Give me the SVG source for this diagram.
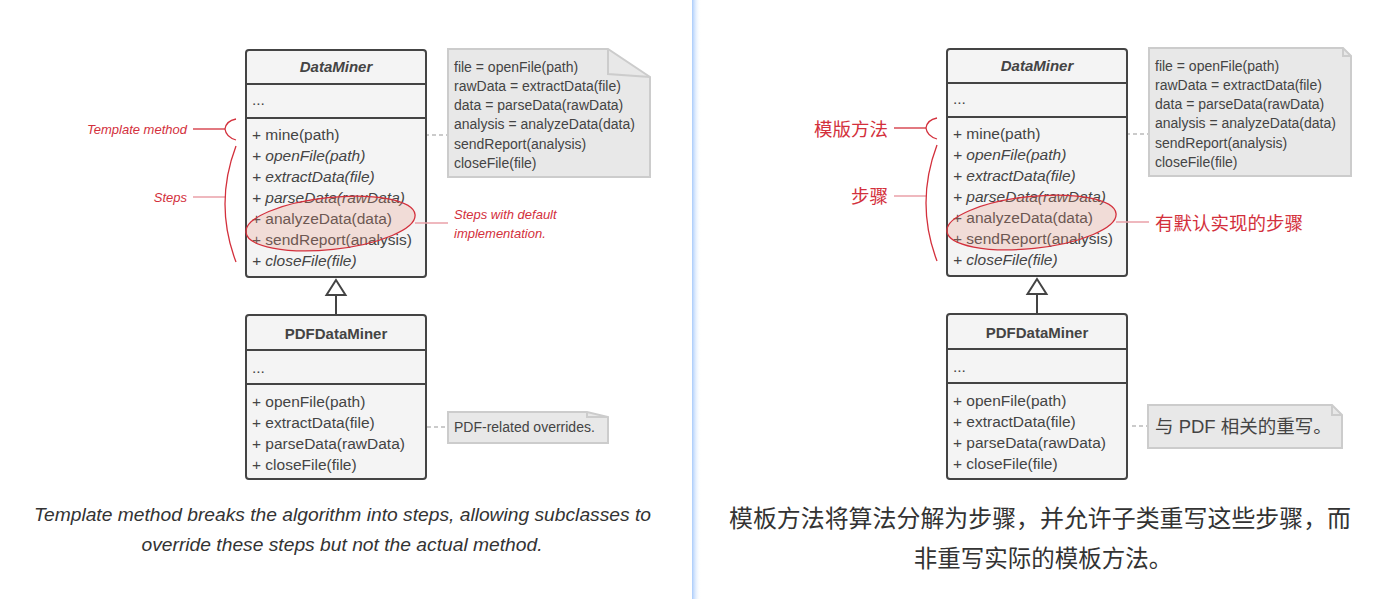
<svg xmlns="http://www.w3.org/2000/svg" width="1394" height="599" viewBox="0 0 1394 599">
<defs>
<linearGradient id="div" x1="0" y1="0" x2="1" y2="0">
<stop offset="0" stop-color="#a9cbfb"/>
<stop offset="1" stop-color="#ffffff" stop-opacity="0"/>
</linearGradient>
<style>
.box{fill:#f4f4f4;stroke:#444;stroke-width:2}
.sep{stroke:#444;stroke-width:2}
.t{font-family:"Liberation Sans",Arial,sans-serif;font-size:15.5px;fill:#444}
.ti{font-family:"Liberation Sans",Arial,sans-serif;font-size:15.5px;fill:#444;font-style:italic}
.title{font-family:"Liberation Sans",Arial,sans-serif;font-size:15px;font-weight:bold;fill:#444;text-anchor:middle}
.note{fill:#e8e8e8;stroke:#cccccc;stroke-width:2}
.fold{fill:none;stroke:#cccccc;stroke-width:2}
.nt{font-family:"Liberation Sans",Arial,sans-serif;font-size:14px;fill:#444}
.red{font-family:"Liberation Sans",Arial,sans-serif;font-size:13px;font-style:italic;fill:#d3303c}
.redc{font-family:"Liberation Sans","Noto Sans CJK SC",sans-serif;font-size:18.5px;fill:#d3303c}
.rl{stroke:#d3303c;stroke-width:1.3;fill:none}
.pl{stroke:#eaa1a8;stroke-width:1.5;fill:none}
.dash{stroke:#bbbbbb;stroke-width:1.5;stroke-dasharray:4 3;fill:none}
.ell{fill:#e8957f;fill-opacity:0.25;stroke:#d3303c;stroke-width:1.3}
.inh{stroke:#444;stroke-width:2;fill:none}
.cap{font-family:"Liberation Sans",Arial,sans-serif;font-size:19px;font-style:italic;fill:#333;text-anchor:middle}
.capc{font-family:"Noto Sans CJK SC",sans-serif;font-size:23.5px;fill:#333;text-anchor:middle}
</style>
</defs>
<rect width="1394" height="599" fill="#ffffff"/>
<rect x="692" y="0" width="9" height="599" fill="url(#div)"/>

<!-- connectors -->
<g id="connectors">
<circle cx="358" cy="135" r="3.8" fill="#fff" stroke="#aaa" stroke-width="1.5"/>
<line class="dash" x1="362" y1="135" x2="448" y2="135"/>
<path class="inh" d="M336,295 L336,315"/>
<path d="M336,280 L326.5,295 L345.5,295 Z" fill="#fff" stroke="#444" stroke-width="2"/>
<line class="dash" x1="427" y1="427" x2="448" y2="427"/>
<circle cx="1059" cy="134" r="3.8" fill="#fff" stroke="#aaa" stroke-width="1.5"/>
<line class="dash" x1="1063" y1="134" x2="1149" y2="134"/>
<path class="inh" d="M1037,294 L1037,314"/>
<path d="M1037,279 L1027.5,294 L1046.5,294 Z" fill="#fff" stroke="#444" stroke-width="2"/>
<line class="dash" x1="1132" y1="426" x2="1148" y2="426"/>
</g>

<!-- LEFT -->
<g id="dataminer-left">
<rect class="box" x="246" y="50" width="180" height="227" rx="3"/>
<line class="sep" x1="246" y1="84" x2="426" y2="84"/>
<line class="sep" x1="246" y1="118" x2="426" y2="118"/>
<text class="title" x="336" y="72" font-style="italic">DataMiner</text>
<text class="t" x="252" y="105">...</text>
<text class="t" x="252" y="140">+ mine(path)</text>
<text class="ti" x="252" y="161">+ openFile(path)</text>
<text class="ti" x="252" y="182">+ extractData(file)</text>
<text class="ti" x="252" y="203">+ parseData(rawData)</text>
<text class="t" x="252" y="224">+ analyzeData(data)</text>
<text class="t" x="252" y="245">+ sendReport(analysis)</text>
<text class="ti" x="252" y="266">+ closeFile(file)</text>
</g>
<g id="highlight-left">
<ellipse class="ell" cx="330.5" cy="223.5" rx="85" ry="26" transform="rotate(-6 330.5 223.5)"/>
<line class="pl" x1="415" y1="223" x2="448" y2="223"/>
</g>
<g id="note-left">
<path class="note" d="M448,49 L608,49 L650,77 L650,177 L448,177 Z"/>
<path class="fold" d="M608,49 L608,74 L650,77"/>
<text class="nt" x="454" y="71.5">file = openFile(path)</text>
<text class="nt" x="454" y="90.8">rawData = extractData(file)</text>
<text class="nt" x="454" y="110.1">data = parseData(rawData)</text>
<text class="nt" x="454" y="129.4">analysis = analyzeData(data)</text>
<text class="nt" x="454" y="148.7">sendReport(analysis)</text>
<text class="nt" x="454" y="168">closeFile(file)</text>
</g>
<g id="labels-left">
<text class="red" x="187" y="133.5" text-anchor="end">Template method</text>
<line class="rl" x1="193" y1="129" x2="225" y2="129"/>
<path class="rl" d="M236,119 Q226,121 225,129 Q226,137 236,140"/>
<text class="red" x="187" y="201.5" text-anchor="end">Steps</text>
<line class="pl" x1="193" y1="197" x2="225" y2="197"/>
<path class="rl" d="M236,146 Q214,204 236,262"/>
<text class="red" x="454" y="218.5">Steps with default</text>
<text class="red" x="454" y="237.5">implementation.</text>
</g>
<g id="pdfdataminer-left">
<rect class="box" x="246" y="315" width="180" height="164" rx="3"/>
<line class="sep" x1="246" y1="350" x2="426" y2="350"/>
<line class="sep" x1="246" y1="384" x2="426" y2="384"/>
<text class="title" x="336" y="338.5">PDFDataMiner</text>
<text class="t" x="252" y="373">...</text>
<text class="t" x="252" y="407">+ openFile(path)</text>
<text class="t" x="252" y="428">+ extractData(file)</text>
<text class="t" x="252" y="449">+ parseData(rawData)</text>
<text class="t" x="252" y="469.5">+ closeFile(file)</text>
</g>
<g id="pdfnote-left">
<path class="note" d="M448,412 L587,412 L608,417 L608,443 L448,443 Z"/>
<path class="fold" d="M587,412 L587,417 L608,417"/>
<text class="nt" x="454" y="432">PDF-related overrides.</text>
</g>
<g id="caption-left">
<text class="cap" x="342.5" y="521" textLength="617" lengthAdjust="spacingAndGlyphs">Template method breaks the algorithm into steps, allowing subclasses to</text>
<text class="cap" x="342" y="551" textLength="401" lengthAdjust="spacingAndGlyphs">override these steps but not the actual method.</text>
</g>

<!-- RIGHT -->
<g id="dataminer-right">
<rect class="box" x="947" y="49" width="180" height="227" rx="3"/>
<line class="sep" x1="947" y1="83" x2="1127" y2="83"/>
<line class="sep" x1="947" y1="117" x2="1127" y2="117"/>
<text class="title" x="1037" y="71" font-style="italic">DataMiner</text>
<text class="t" x="953" y="104">...</text>
<text class="t" x="953" y="139">+ mine(path)</text>
<text class="ti" x="953" y="160">+ openFile(path)</text>
<text class="ti" x="953" y="181">+ extractData(file)</text>
<text class="ti" x="953" y="202">+ parseData(rawData)</text>
<text class="t" x="953" y="223">+ analyzeData(data)</text>
<text class="t" x="953" y="244">+ sendReport(analysis)</text>
<text class="ti" x="953" y="265">+ closeFile(file)</text>
</g>
<g id="highlight-right">
<ellipse class="ell" cx="1031.5" cy="222.5" rx="85" ry="26" transform="rotate(-6 1031.5 222.5)"/>
<line class="pl" x1="1116" y1="222" x2="1149" y2="222"/>
</g>
<g id="note-right">
<path class="note" d="M1149,48 L1343,48 L1351,56 L1351,176 L1149,176 Z"/>
<path class="fold" d="M1343,48 L1343,56 L1351,56"/>
<text class="nt" x="1155" y="70.5">file = openFile(path)</text>
<text class="nt" x="1155" y="89.8">rawData = extractData(file)</text>
<text class="nt" x="1155" y="109.1">data = parseData(rawData)</text>
<text class="nt" x="1155" y="128.4">analysis = analyzeData(data)</text>
<text class="nt" x="1155" y="147.7">sendReport(analysis)</text>
<text class="nt" x="1155" y="167">closeFile(file)</text>
</g>
<g id="labels-right">
<text class="redc" x="888" y="135.5" text-anchor="end">模版方法</text>
<line class="rl" x1="894" y1="128" x2="926" y2="128"/>
<path class="rl" d="M937,118 Q927,120 926,128 Q927,136 937,139"/>
<text class="redc" x="888" y="203" text-anchor="end">步骤</text>
<line class="pl" x1="894" y1="196" x2="926" y2="196"/>
<path class="rl" d="M937,145 Q915,203 937,261"/>
<text class="redc" x="1155" y="229.5">有默认实现的步骤</text>
</g>
<g id="pdfdataminer-right">
<rect class="box" x="947" y="314" width="180" height="165" rx="3"/>
<line class="sep" x1="947" y1="349" x2="1127" y2="349"/>
<line class="sep" x1="947" y1="383" x2="1127" y2="383"/>
<text class="title" x="1037" y="337.5">PDFDataMiner</text>
<text class="t" x="953" y="372">...</text>
<text class="t" x="953" y="406">+ openFile(path)</text>
<text class="t" x="953" y="427">+ extractData(file)</text>
<text class="t" x="953" y="448">+ parseData(rawData)</text>
<text class="t" x="953" y="468.5">+ closeFile(file)</text>
</g>
<g id="pdfnote-right">
<path class="note" d="M1148,405 L1332,405 L1342,415 L1342,448 L1148,448 Z"/>
<path class="fold" d="M1332,405 L1332,415 L1342,415"/>
<text class="redc" x="1155" y="433" style="fill:#444">与 PDF 相关的重写。</text>
</g>
<g id="caption-right">
<text class="capc" x="1040" y="527" textLength="622" lengthAdjust="spacingAndGlyphs">模板方法将算法分解为步骤，并允许子类重写这些步骤，而</text>
<text class="capc" x="1043" y="567">非重写实际的模板方法。</text>
</g>
</svg>
